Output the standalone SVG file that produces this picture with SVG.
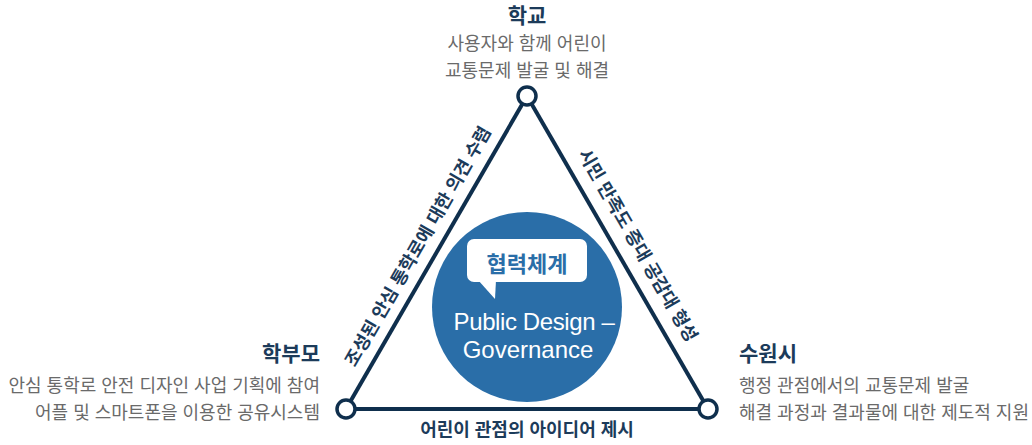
<svg xmlns="http://www.w3.org/2000/svg" width="1032" height="445" viewBox="0 0 1032 445">
<style>
.hd{font-family:"Liberation Sans","Noto Sans CJK KR",sans-serif;font-weight:bold;font-size:21px;fill:#1c3b5a}
.gr{font-family:"Liberation Sans","Noto Sans CJK KR",sans-serif;font-size:18px;fill:#6a6a6a}
.lb{font-family:"Liberation Sans","Noto Sans CJK KR",sans-serif;font-weight:bold;font-size:18px;fill:#1c3b5a}
.edge{stroke:#0f2f4d;stroke-width:4;fill:none}
.node{fill:#fff;stroke:#0f2f4d;stroke-width:3.5}
</style>
<rect width="1032" height="445" fill="#fff"/>
<g id="connectors">
<line class="edge" x1="346" y1="409" x2="527" y2="96"/>
<line class="edge" x1="527" y1="96" x2="708" y2="409"/>
<line class="edge" x1="346" y1="409" x2="708" y2="409"/>
<text class="lb" transform="translate(436.5,252.5) rotate(-60)" x="-4" y="-13" text-anchor="middle">조성된 안심 통학로에 대한 의견 수렴</text>
<text class="lb" transform="translate(617.5,252.5) rotate(60)" x="4" y="-15" text-anchor="middle">시민 만족도 증대 공감대 형성</text>
<text class="lb" x="527" y="436" text-anchor="middle">어린이 관점의 아이디어 제시</text>
</g>
<g id="center">
<circle cx="527" cy="307" r="95" fill="#2a6ea8"/>
<rect x="467" y="239" width="120" height="43" rx="7" fill="#fff"/>
<path d="M478,280 L496,280 L495,299 Z" fill="#fff"/>
<text x="527" y="272" text-anchor="middle" style="font-family:'Liberation Sans','Noto Sans CJK KR',sans-serif;font-weight:bold;font-size:22px;fill:#2a6ea8">협력체계</text>
<text x="534" y="330" text-anchor="middle" style="font-family:'Liberation Sans',sans-serif;font-size:24px;fill:#fff;letter-spacing:-0.4px">Public Design –</text>
<text x="528" y="358" text-anchor="middle" style="font-family:'Liberation Sans',sans-serif;font-size:24px;fill:#fff">Governance</text>
</g>
<g id="school">
<circle class="node" cx="527" cy="96" r="9"/>
<text class="hd" x="527" y="23" text-anchor="middle">학교</text>
<text class="gr" x="527" y="50" text-anchor="middle">사용자와 함께 어린이</text>
<text class="gr" x="527" y="77" text-anchor="middle">교통문제 발굴 및 해결</text>
</g>
<g id="parents">
<circle class="node" cx="346" cy="409" r="9"/>
<text class="hd" x="320" y="361" text-anchor="end">학부모</text>
<text class="gr" x="320" y="392" text-anchor="end">안심 통학로 안전 디자인 사업 기획에 참여</text>
<text class="gr" x="320" y="419" text-anchor="end">어플 및 스마트폰을 이용한 공유시스템</text>
</g>
<g id="suwon">
<circle class="node" cx="708" cy="409" r="9"/>
<text class="hd" x="739" y="361">수원시</text>
<text class="gr" x="739" y="392">행정 관점에서의 교통문제 발굴</text>
<text class="gr" x="739" y="419">해결 과정과 결과물에 대한 제도적 지원</text>
</g>
</svg>
